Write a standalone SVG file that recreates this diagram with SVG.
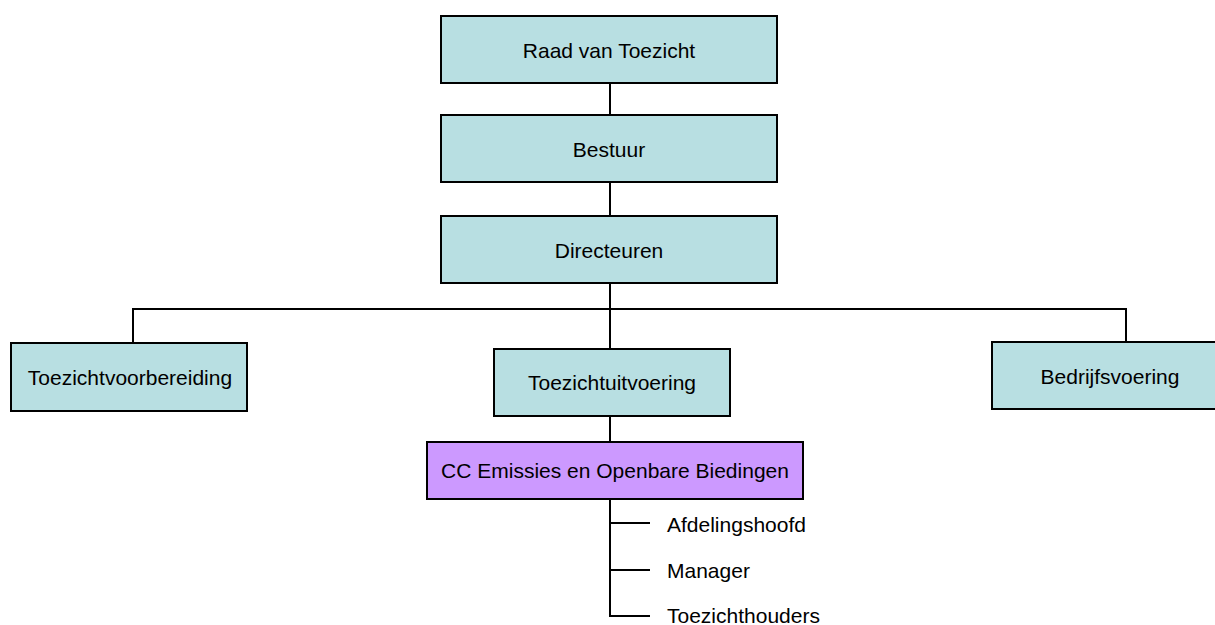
<svg xmlns="http://www.w3.org/2000/svg" width="1215" height="625" viewBox="0 0 1215 625">
<style>
.box{fill:#b8dfe2;stroke:#000;stroke-width:2}
.cc{fill:#cc99ff;stroke:#000;stroke-width:2}
.t{font-family:"Liberation Sans",Arial,sans-serif;font-size:21px;fill:#000;text-anchor:middle}
.l{font-family:"Liberation Sans",Arial,sans-serif;font-size:21px;fill:#000}
.c{fill:none;stroke:#000;stroke-width:2}
</style>
<rect width="1215" height="625" fill="#fff"/>
<g id="connectors">
<path class="c" d="M610 83V115M610 182V216M610 283V349M133 343V309H1126V342M610 416V442M610 499V616H650M610 523H650M610 570H650"/>
</g>
<g id="raad"><rect class="box" x="441" y="16" width="336" height="67"/><text class="t" x="609" y="57.5">Raad van Toezicht</text></g>
<g id="bestuur"><rect class="box" x="441" y="115" width="336" height="67"/><text class="t" x="609" y="156.5">Bestuur</text></g>
<g id="directeuren"><rect class="box" x="441" y="216" width="336" height="67"/><text class="t" x="609" y="257.5">Directeuren</text></g>
<g id="toezichtvoorbereiding"><rect class="box" x="11" y="343" width="236" height="68"/><text class="t" x="130" y="385">Toezichtvoorbereiding</text></g>
<g id="toezichtuitvoering"><rect class="box" x="494" y="349" width="236" height="67"/><text class="t" x="612" y="390">Toezichtuitvoering</text></g>
<g id="bedrijfsvoering"><rect class="box" x="992" y="342" width="236" height="67"/><text class="t" x="1110" y="383.5">Bedrijfsvoering</text></g>
<g id="cc"><rect class="cc" x="427" y="442" width="376" height="57"/><text class="t" x="615" y="478">CC Emissies en Openbare Biedingen</text></g>
<g id="afdelingshoofd"><text class="l" x="667" y="531.5">Afdelingshoofd</text></g>
<g id="manager"><text class="l" x="667" y="578">Manager</text></g>
<g id="toezichthouders"><text class="l" x="667" y="622.5">Toezichthouders</text></g>
</svg>
